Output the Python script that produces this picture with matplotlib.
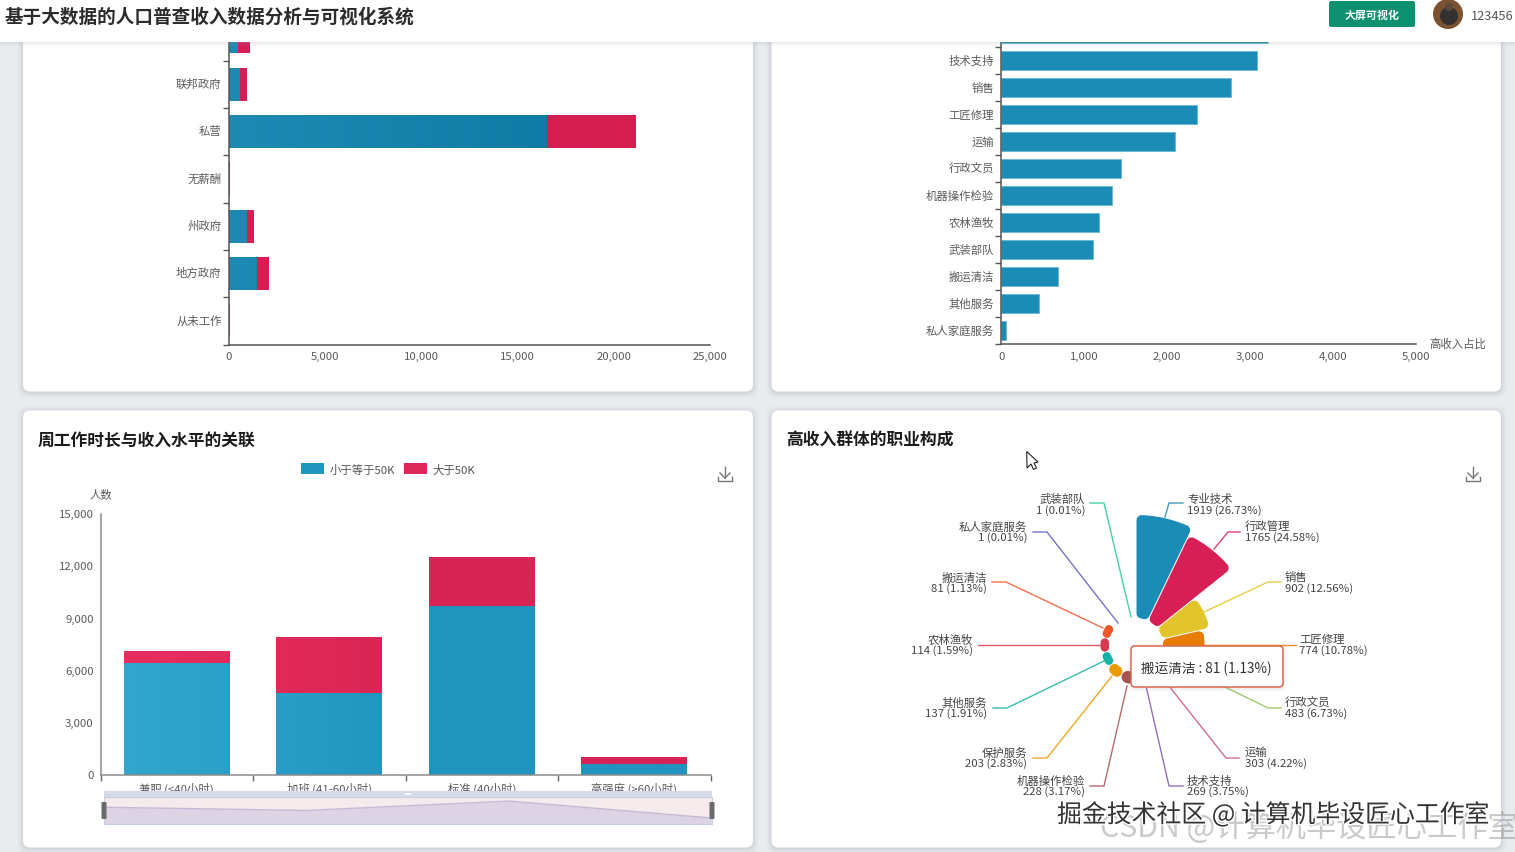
import numpy as np
import matplotlib
matplotlib.use("Agg")
import matplotlib.pyplot as plt
from matplotlib.patches import FancyBboxPatch, Circle, Polygon, Patch
from matplotlib.transforms import ScaledTranslation
import matplotlib.patheffects as pe

plt.rcParams['font.family'] = ['Noto Sans CJK SC', 'DejaVu Sans']

# ---------- data ----------
work_types = ['从未工作', '地方政府', '州政府', '无薪酬', '私营', '联邦政府', '自由职业']
work_low = [6, 1454, 935, 14, 16560, 597, 490]
work_high = [1, 596, 335, 7, 4570, 363, 600]

occ_rank = ['私人家庭服务', '其他服务', '搬运清洁', '武装部队', '农林渔牧', '机器操作检验',
            '行政文员', '运输', '工匠修理', '销售', '技术支持', '保护服务']
occ_rank_values = [60, 458, 687, 1108, 1181, 1337, 1446, 2096, 2355, 2765, 3084, 3217]

hours_cats = ['兼职 (<40小时)', '加班 (41-60小时)', '标准 (40小时)', '高强度 (>60小时)']
hours_low = [6440, 4720, 9720, 670]
hours_high = [650, 3170, 2770, 380]
series_names = ['小于等于50K', '大于50K']

rose_names = ['专业技术', '行政管理', '销售', '工匠修理', '行政文员', '运输', '技术支持',
              '机器操作检验', '保护服务', '其他服务', '农林渔牧', '搬运清洁', '私人家庭服务', '武装部队']
rose_values = [1919, 1765, 902, 774, 483, 303, 269, 228, 203, 137, 114, 81, 1, 1]
rose_pcts = ['26.73', '24.58', '12.56', '10.78', '6.73', '4.22', '3.75',
             '3.17', '2.83', '1.91', '1.59', '1.13', '0.01', '0.01']

# ---------- style / layout ----------
W, H = 1515, 853
rose_colors = ['#1a8cb6', '#d81f55', '#e3c42a', '#e87c00', '#8cc152', '#c9527f', '#7e57b0',
               '#a9514f', '#e89a00', '#17b0a8', '#d8394f', '#f0582a', '#5c5cb8', '#20c997']
# start, elbow, end of each leader line; side; text x; y of both text rows (pixels)
leaders = [
    ((1165, 518), (1169, 504), (1183, 504), 'l', 1187, 498, 510),
    ((1214, 550), (1228, 533), (1240, 533), 'l', 1245, 526, 537),
    ((1204, 613), (1268, 583), (1281, 583), 'l', 1285, 577, 588),
    ((1204, 646), (1283, 646), (1296, 646), 'l', 1299, 639, 650),
    ((1223, 687), (1268, 709), (1281, 709), 'l', 1285, 702, 713),
    ((1169, 687), (1226, 759), (1239, 759), 'l', 1245, 752, 763),
    ((1146, 687), (1169, 787), (1183, 787), 'l', 1187, 780, 791),
    ((1127, 687), (1104, 787), (1090, 787), 'r', 1085, 780, 791),
    ((1112, 677), (1047, 759), (1033, 759), 'r', 1027, 752, 763),
    ((1104, 662), (1007, 709), (993, 709), 'r', 987, 702, 713),
    ((1102, 646), (991, 646), (978, 646), 'r', 973, 639, 650),
    ((1103, 629), (1006, 583), (992, 583), 'r', 987, 577, 588),
    ((1118, 624), (1047, 533), (1033, 533), 'r', 1027, 526, 537),
    ((1131, 618), (1104, 504), (1090, 504), 'r', 1085, 498, 510),
]
TS = 8.2
AX_C = '#555555'
TXT = '#5a5a5a'


def box(x0, y0, x1, y1):
    return [x0 / W, 1 - y1 / H, (x1 - x0) / W, (y1 - y0) / H]


def lerp(a, b, t):
    return np.array(a) + (np.array(b) - np.array(a)) * t


fig = plt.figure(figsize=(W / 100, H / 100), dpi=100, facecolor='#e9ebee')

# ---------- background layer ----------
bg = fig.add_axes([0, 0, 1, 1], zorder=0)
bg.set_xlim(0, W)
bg.set_ylim(H, 0)
bg.axis('off')


def card(a, x0, y0, x1, y1):
    for g, al in [(5, .05), (3.5, .07), (2, .09), (1, .1)]:
        a.add_patch(FancyBboxPatch((x0 - g, y0 - g + 1), x1 - x0 + 2 * g, y1 - y0 + 2 * g,
                                   boxstyle='round,pad=0,rounding_size=9', fc='#9aa0a8', ec='none', alpha=al))
    a.add_patch(FancyBboxPatch((x0, y0), x1 - x0, y1 - y0, boxstyle='round,pad=0,rounding_size=7',
                               fc='white', ec='none'))


for c in [(23, 20, 753, 392.5), (771.5, 20, 1501, 392.5), (23, 411.5, 753, 848.5), (771.5, 411.5, 1501, 848.5)]:
    card(bg, *c)
bg.text(38, 440.5, '周工作时长与收入水平的关联', fontsize=12.1, fontweight='bold', color='#1c1c1c', va='center')
bg.text(786, 440.5, '高收入群体的职业构成', fontsize=12.1, fontweight='bold', color='#1c1c1c', va='center')


def download(a, cx, cy):
    a.plot([cx, cx], [cy - 7, cy + 4], color='#777', lw=1)
    a.plot([cx - 5, cx, cx + 5], [cy - 1, cy + 4, cy - 1], color='#777', lw=1)
    a.plot([cx - 7, cx - 7, cx + 7, cx + 7], [cy + 3, cy + 7, cy + 7, cy + 3], color='#777', lw=1)


download(bg, 725, 475)
download(bg, 1473, 475)
bg.text(101, 495, '人数', fontsize=TS, color=TXT, ha='center', va='center')
bg.text(1458, 344, '高收入占比', fontsize=TS, color=TXT, ha='center', va='center')


def style_axes(ax, color=AX_C):
    ax.patch.set_alpha(0)
    for s in ['top', 'right']:
        ax.spines[s].set_visible(False)
    for s in ['left', 'bottom']:
        ax.spines[s].set_color(color)
        ax.spines[s].set_linewidth(1.1)


def nudge_ylabels(ax, px):
    off = ScaledTranslation(0, px / 100, fig.dpi_scale_trans)
    for lab in ax.get_yticklabels():
        lab.set_transform(lab.get_transform() + off)


def grad_bars(ax, xs, lefts_or_bottoms, sizes, c0, c1, horizontal, thick, span):
    """Draw bars through the axes and lay a soft left-to-right gradient over them."""
    for x, b, s in zip(xs, lefts_or_bottoms, sizes):
        if horizontal:
            ax.barh(x, s, left=b, height=thick, color=tuple(np.array(c0) / 255), edgecolor='none', zorder=2)
            l, r, bt, tp = b, b + s, x - thick / 2, x + thick / 2
        else:
            ax.bar(x, s, bottom=b, width=thick, color=tuple(np.array(c0) / 255), edgecolor='none', zorder=2)
            l, r, bt, tp = x - thick / 2, x + thick / 2, b, b + s
        t = np.linspace(l, r, 24)
        t = (t - span[0]) / (span[1] - span[0])
        arr = np.array([[lerp(c0, c1, np.clip(v, 0, 1)) / 255 for v in t]])
        ax.imshow(arr, extent=[l, r, bt, tp], aspect='auto', zorder=2.1, interpolation='bilinear')


# ---------- top left: stacked horizontal bars ----------
ax1 = fig.add_axes(box(228.5, 43, 710, 345.5), zorder=2)
style_axes(ax1)
y1 = np.arange(len(work_types))
wl, wh = np.array(work_low), np.array(work_high)
grad_bars(ax1, y1, np.zeros(len(wl)), wl, (28, 138, 178), (16, 124, 165), True, 0.69, (0, 17000))
grad_bars(ax1, y1, wl, wh, (214, 32, 84), (212, 30, 80), True, 0.69, (0, 25000))
ax1.set_xticks(np.arange(0, 25001, 5000))
ax1.set_xticklabels([f'{v:,}' for v in range(0, 25001, 5000)])
ax1.set_yticks(y1[:6])
ax1.set_yticklabels(work_types[:6])
ax1.set_yticks(np.arange(-0.5, 6, 1), minor=True)
ax1.set_xlim(0, 25000)
ax1.set_ylim(-0.5, (345.5 - 43) / 47.3 - 0.5)
ax1.tick_params(axis='y', which='major', length=0, pad=5, labelsize=TS, labelcolor=TXT)
ax1.tick_params(axis='y', which='minor', length=4, width=1, color=AX_C)
ax1.tick_params(axis='x', length=0, pad=5, labelsize=TS, labelcolor=TXT)
nudge_ylabels(ax1, 2)

# ---------- top right: ranked horizontal bars ----------
ax2 = fig.add_axes(box(1001.2, 43, 1416.4, 345), zorder=2)
style_axes(ax2)
y2 = np.arange(len(occ_rank))
ax2.barh(y2, occ_rank_values, height=0.68, color='#1b8cb6', edgecolor='#5fb4d0', linewidth=0.5, zorder=2)
ax2.set_xticks(np.arange(0, 5001, 1000))
ax2.set_xticklabels([f'{v:,}' for v in range(0, 5001, 1000)])
ax2.set_yticks(y2[:11])
ax2.set_yticklabels(occ_rank[:11])
ax2.set_yticks(np.arange(-0.5, 11, 1), minor=True)
ax2.set_xlim(0, 5000)
ax2.set_ylim(-0.5, (345 - 43) / 27 - 0.5)
ax2.tick_params(axis='y', which='major', length=0, pad=5, labelsize=TS, labelcolor=TXT)
ax2.tick_params(axis='y', which='minor', length=4, width=1, color=AX_C)
ax2.tick_params(axis='x', length=0, pad=5, labelsize=TS, labelcolor=TXT)
nudge_ylabels(ax2, 1)

# ---------- bottom left: stacked columns ----------
ax3 = fig.add_axes(box(100.5, 515, 710.5, 776.3), zorder=2)
style_axes(ax3, '#8a8a8a')
x3 = np.arange(len(hours_cats))
hl, hh = np.array(hours_low), np.array(hours_high)
grad_bars(ax3, x3, np.zeros(4), hl, (50, 168, 206), (32, 148, 190), False, 0.692, (-0.5, 1.6))
grad_bars(ax3, x3, hl, hh, (232, 48, 96), (216, 36, 84), False, 0.692, (-0.5, 1.6))
ax3.set_yticks(np.arange(0, 15001, 3000))
ax3.set_yticklabels([f'{v:,}' for v in range(0, 15001, 3000)])
ax3.set_xticks(x3)
ax3.set_xticklabels(hours_cats)
ax3.set_xticks(np.arange(-0.5, 4, 1), minor=True)
ax3.set_xlim(-0.5, 3.5)
ax3.set_ylim(0, 15000)
ax3.tick_params(axis='y', length=0, pad=5, labelsize=TS, labelcolor=TXT)
ax3.tick_params(axis='x', which='major', length=0, pad=5, labelsize=TS, labelcolor=TXT)
ax3.tick_params(axis='x', which='minor', length=4, width=1, color='#666666')
nudge_ylabels(ax3, 1)
ax3.legend(handles=[Patch(fc='#2095bd', label=series_names[0]), Patch(fc='#dc2858', label=series_names[1])],
           loc='center', bbox_to_anchor=(388 / W, 1 - 470 / H), bbox_transform=fig.transFigure,
           ncol=2, frameon=False, fontsize=TS, handlelength=2.04, handleheight=1.1,
           handletextpad=0.45, columnspacing=0.8, labelcolor='#555555', borderpad=0)

# ---------- data-zoom overview ----------
ax4 = fig.add_axes(box(103.5, 798, 712, 825), zorder=3)
ax4.set_facecolor('#f5eaec')
ax4.fill_between(x3, hours_low, -2514, color='#dcd4e4', lw=0)
ax4.plot(x3, hours_low, color='#c6b9d8', lw=1)
ax4.set_xlim(0, 3)
ax4.set_ylim(-2514, 11906)
ax4.set_xticks([])
ax4.set_yticks([])
for s in ax4.spines.values():
    s.set_color('#c5cfe0')
    s.set_linewidth(0.8)

# ---------- bottom right: rose ----------
lay = fig.add_axes(box(771, 470, 1501, 848), zorder=2)
lay.set_xlim(771, 1501)
lay.set_ylim(848, 470)
lay.axis('off')
for name, val, pct, col, (st, el, en, side, tx, ty1, ty2) in zip(rose_names, rose_values, rose_pcts, rose_colors, leaders):
    lay.plot([st[0], el[0], en[0]], [st[1], el[1], en[1]], color=col, lw=1, alpha=.85, solid_joinstyle='round')
    ha = 'left' if side == 'l' else 'right'
    lay.text(tx, ty1 + 1, name, fontsize=TS, color='#444444', ha=ha, va='center')
    lay.text(tx, ty2 + 1, f'{val} ({pct}%)', fontsize=TS, color='#444444', ha=ha, va='center')

R_MAX = 150.0
axp = fig.add_axes(box(1136 - R_MAX, 646 - R_MAX, 1136 + R_MAX, 646 + R_MAX), projection='polar', zorder=3)
axp.patch.set_alpha(0)
axp.axis('off')
axp.set_theta_zero_location('N')
axp.set_theta_direction(-1)
axp.set_rlim(0, R_MAX)
R0, R1 = 27.0, 130.0
step = 2 * np.pi / len(rose_values)
vmax = max(rose_values)
CORNER = 5.0
for i, (val, col) in enumerate(zip(rose_values, rose_colors)):
    if val < 10:
        continue
    outer_full = R0 + (R1 - R0) * val / vmax
    a0, a1 = i * step, (i + 1) * step
    if outer_full - R0 < 14:
        # short slices render as small rounded blobs
        thick = max(outer_full - R0, 8.5)
        rm = R0 + thick / 2
        off = (thick / 2 + 0.3) / rm
        axp.plot([a0 + off, (a0 + a1) / 2, a1 - off], [rm, rm, rm], color=col, lw=thick * 0.72,
                 solid_capstyle='round', solid_joinstyle='round')
        continue
    inner = R0 + CORNER
    outer = outer_full - CORNER
    off = CORNER + 0.5
    rs_side = np.linspace(inner, outer, 6)
    left = a0 + np.arcsin(off / rs_side)
    right = a1 - np.arcsin(off / rs_side)
    arc_o = np.linspace(left[-1], right[-1], 12)
    arc_i = np.linspace(right[0], left[0], 4)
    th = np.concatenate([left, arc_o, right[::-1], arc_i])
    rr = np.concatenate([rs_side, np.full(12, outer), rs_side[::-1], np.full(4, inner)])
    axp.fill(th, rr, facecolor=col, edgecolor=col, lw=CORNER * 2 * 0.72, joinstyle='round')

# ---------- foreground layer ----------
fg = fig.add_axes([0, 0, 1, 1], zorder=10)
fg.set_xlim(0, W)
fg.set_ylim(H, 0)
fg.axis('off')
fg.patch.set_alpha(0)

# header
for g, al in [(4, .05), (2.5, .07), (1, .1)]:
    fg.add_patch(plt.Rectangle((0, 0), W, 43 + g, fc='#9aa0a8', ec='none', alpha=al))
fg.add_patch(plt.Rectangle((0, 0), W, 43, fc='white', ec='none'))
fg.text(5, 17.5, '基于大数据的人口普查收入数据分析与可视化系统', fontsize=13.4, fontweight='bold', color='#2b2b2b', va='center')
fg.add_patch(FancyBboxPatch((1329, 2), 86, 26, boxstyle='round,pad=0,rounding_size=2', fc='#0d9070', ec='none'))
fg.text(1372, 15.5, '大屏可视化', fontsize=7.9, fontweight='bold', color='white', ha='center', va='center')
fg.add_patch(Circle((1448, 15), 15, fc='#7a5230', ec='none'))
fg.add_patch(Circle((1449, 17), 9, fc='#33302f', ec='none'))
fg.add_patch(Circle((1449, 8), 4, fc='#5b4a3c', ec='none'))
fg.text(1471, 16.5, '123456', fontsize=9.2, color='#555555', va='center')

# data-zoom strip and handles
fg.add_patch(plt.Rectangle((103.5, 792), 608.5, 6, fc='#d5dbe8', ec='none'))
fg.add_patch(plt.Rectangle((405, 793.5), 6, 2, fc='white', ec='none'))
for xh in (104, 712):
    fg.add_patch(FancyBboxPatch((xh - 2.5, 803), 5, 17, boxstyle='round,pad=0,rounding_size=1', fc='#6b6b6b', ec='none'))

# tooltip
for g, al in [(3, .05), (1.5, .08)]:
    fg.add_patch(FancyBboxPatch((1131 - g, 647 - g + 1), 152 + 2 * g, 41 + 2 * g, boxstyle='round,pad=0,rounding_size=5',
                                fc='#888888', ec='none', alpha=al))
fg.add_patch(FancyBboxPatch((1131, 647), 152, 41, boxstyle='round,pad=0,rounding_size=4', fc='white', ec='#d9694f', lw=1.1))
fg.text(1141, 668.5, f'{rose_names[11]} : {rose_values[11]} ({rose_pcts[11]}%)', fontsize=9.8, color='#333333', va='center')

# mouse pointer
fg.add_patch(Polygon([(1026.7, 452.5), (1038, 463), (1034, 464), (1036.5, 469), (1033.5, 470.5), (1031, 465), (1027, 469)],
                     closed=True, fc='white', ec='#222222', lw=0.8))

# watermarks
fg.text(1100, 828, 'CSDN @计算机毕设匠心工作室', fontsize=21.8, color='#8a8a8a', alpha=.45, va='center', clip_on=True)
fg.text(1057, 816, '掘金技术社区 @ 计算机毕设匠心工作室', fontsize=17.9, color='#333333', va='center',
        path_effects=[pe.withStroke(linewidth=2, foreground='white')])

fig.savefig('out.png', dpi=100, facecolor=fig.get_facecolor())
